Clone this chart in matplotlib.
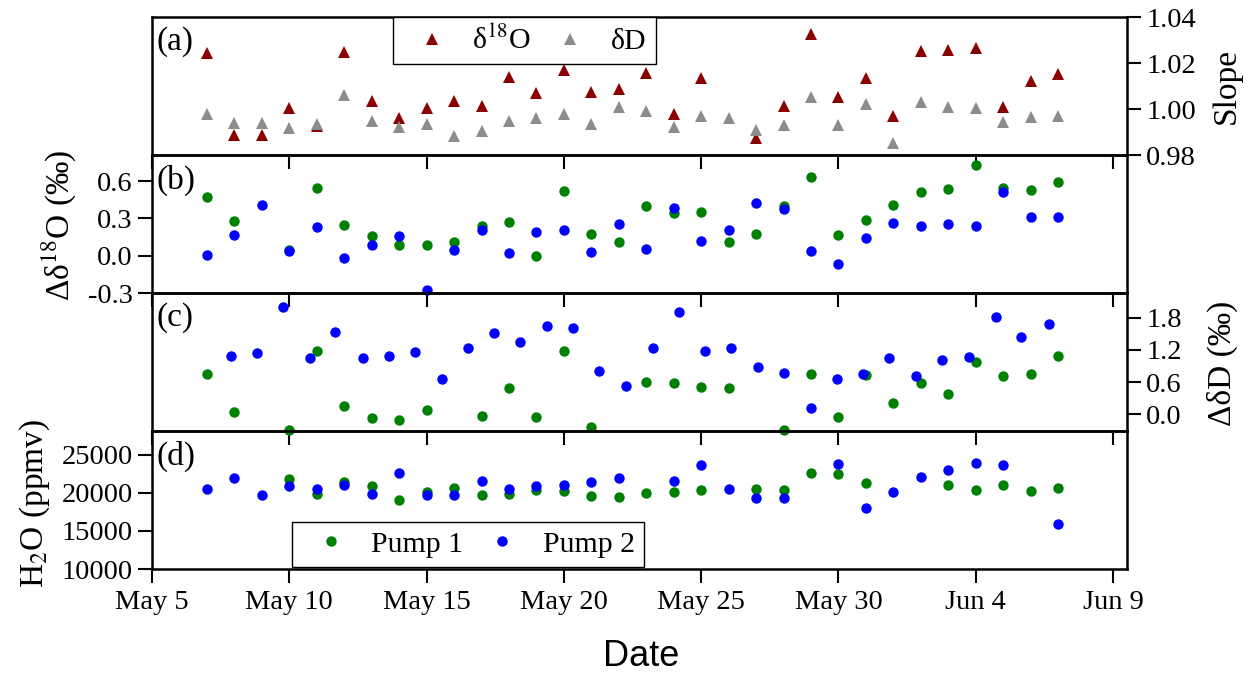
import matplotlib
matplotlib.use('Agg')
import matplotlib.pyplot as plt
import numpy as np
import pandas as pd

plt.rcParams['font.family'] = ['Liberation Serif', 'DejaVu Serif']
plt.rcParams['mathtext.fontset'] = 'stix'
plt.rcParams['axes.unicode_minus'] = False

nan = np.nan

# day numbers counted from May 1 (Jun 1 = 32), daily May 7 .. Jun 7
day = np.arange(7, 39)

# (a) slopes
slope_d18o = [1.0245, 0.9888, 0.9888, 1.0006, 0.9925, 1.0248, 1.0036, 0.9962,
              1.0005, 1.0034, 1.0012, 1.0138, 1.0068, 1.0171, 1.0076, 1.0086,
              1.0157, 0.9977, 1.0136, nan, 0.9872, 1.0015, 1.0326, 1.0054,
              1.0134, 0.9968, 1.0251, 1.0258, 1.0266, 1.0007, 1.0124, 1.0153]
slope_dd = [0.9977, 0.9939, 0.9939, 0.9916, 0.9935, 1.0061, 0.9946, 0.9921,
            0.9935, 0.9884, 0.9903, 0.9950, 0.9962, 0.9977, 0.9935, 1.0009,
            0.9992, 0.9921, 0.9968, 0.9961, 0.9909, 0.9931, 1.0051, 0.9930,
            1.0022, 0.9851, 1.0032, 1.0007, 1.0003, 0.9942, 0.9966, 0.9971]

# (b) delta d18O
d18o_p1 = [0.470, 0.282, nan, 0.050, 0.546, 0.250, 0.161, 0.086,
           0.086, 0.110, 0.242, 0.269, -0.005, 0.524, 0.175, 0.113,
           0.403, 0.341, 0.349, 0.108, 0.172, 0.403, 0.632, 0.167,
           0.288, 0.411, 0.511, 0.538, 0.731, 0.543, 0.532, 0.597]
d18o_p2 = [0.005, 0.170, 0.410, 0.040, 0.234, -0.016, 0.083, 0.161,
           -0.274, 0.048, 0.207, 0.019, 0.188, 0.207, 0.027, 0.253,
           0.054, 0.384, 0.116, 0.207, 0.425, 0.376, 0.038, -0.067,
           0.140, 0.261, 0.237, 0.258, 0.237, 0.516, 0.309, 0.309]

# (c) delta dD
dd_p1 = [0.753, 0.037, nan, -0.300, 1.188, 0.162, -0.062, -0.106,
         0.081, nan, -0.031, 0.498, -0.044, 1.182, -0.240, nan,
         0.610, 0.590, 0.510, 0.485, nan, -0.300, 0.746, -0.040,
         0.734, 0.205, 0.578, 0.386, 0.983, 0.715, 0.759, 1.082]
dd_p2_day = [7.88, 8.81, 9.78, 10.74, 11.68, 12.67, 13.64, 14.58,
             15.56, 16.51, 17.46, 18.42, 19.39, 20.35, 21.29, 22.25,
             23.24, 24.19, 25.13, 26.10, 27.06, 28.01, 29.00, 29.96,
             30.91, 31.85, 32.81, 33.78, 34.75, 35.72, 36.66, 37.65]
dd_p2 = [1.088, 1.150, 2.009, 1.057, 1.542, 1.057, 1.088, 1.169,
         0.659, 1.244, 1.511, 1.343, 1.648, 1.617, 0.815, 0.529,
         1.231, 1.903, 1.182, 1.244, 0.883, 0.771, 0.124, 0.659,
         0.746, 1.057, 0.709, 1.007, 1.063, 1.810, 1.437, 1.679]

# (d) water vapour
h2o_p1 = [nan, nan, nan, 21865, 19867, 21420, 20888, 19112,
          20089, 20666, 19734, 19778, 20400, 20222, 19556, 19423,
          19956, 20089, 20400, nan, 20444, 20400, 22531, 22442,
          21288, nan, nan, 20977, 20400, 20977, 20222, 20666]
h2o_p2 = [20533, 22000, 19645, 20888, 20533, 20977, 19778, 22620,
          19645, 19645, 21510, 20444, 20844, 21066, 21420, 21954,
          nan, 21510, 23641, 20533, 19290, 19290, nan, 23774,
          18002, 20089, 22087, 22930, 23863, 23641, nan, 15960]

tick_days = [5, 10, 15, 20, 25, 30, 35, 40]
tick_labels = ['May 5', 'May 10', 'May 15', 'May 20', 'May 25', 'May 30', 'Jun 4', 'Jun 9']

base = pd.Timestamp('2016-04-30')


def to_date(d):
    return base + pd.to_timedelta(np.asarray(d, dtype=float), unit='D')


RED = '#8b0000'
GRAY = '#8c8c8c'
GREEN = '#008000'
BLUE = '#0000ff'
FS = 20.5      # tick labels
LFS = 24       # axis titles / panel letters
LEGFS = 21.5

fig = plt.figure(figsize=(12.52, 6.73), dpi=100)
gs = fig.add_gridspec(4, 1, left=0.1214, right=0.900, top=0.9747, bottom=0.1545, hspace=0)
axes = [fig.add_subplot(gs[i]) for i in range(4)]
for a in axes[1:]:
    a.sharex(axes[0])

mk = dict(linestyle='none', markeredgewidth=0, clip_on=False)
ax = axes[0]
ax.plot(to_date(day), slope_d18o, '^', color=RED, ms=9, label=r'δ$^{18}$O', **mk)
ax.plot(to_date(day), slope_dd, '^', color=GRAY, ms=9, label='δD', **mk)
ax.set_ylim(0.98, 1.04)
ax.set_yticks([0.98, 1.00, 1.02, 1.04])
ax.set_yticklabels(['0.98', '1.00', '1.02', '1.04'])

ax = axes[1]
ax.plot(to_date(day), d18o_p1, 'o', color=GREEN, ms=7.5, **mk)
ax.plot(to_date(day), d18o_p2, 'o', color=BLUE, ms=7.5, **mk)
ax.set_ylim(-0.3, 0.81)
ax.set_yticks([-0.3, 0.0, 0.3, 0.6])
ax.set_yticklabels(['-0.3', '0.0', '0.3', '0.6'])

ax = axes[2]
ax.plot(to_date(day), dd_p1, 'o', color=GREEN, ms=7.5, **mk)
ax.plot(to_date(dd_p2_day), dd_p2, 'o', color=BLUE, ms=7.5, **mk)
ax.set_ylim(-0.31, 2.26)
ax.set_yticks([0.0, 0.6, 1.2, 1.8])
ax.set_yticklabels(['0.0', '0.6', '1.2', '1.8'])

ax = axes[3]
ax.plot(to_date(day), h2o_p1, 'o', color=GREEN, ms=7.5, label='Pump 1', **mk)
ax.plot(to_date(day), h2o_p2, 'o', color=BLUE, ms=7.5, label='Pump 2', **mk)
ax.set_ylim(10000, 28100)
ax.set_yticks([10000, 15000, 20000, 25000])
ax.set_yticklabels(['10000', '15000', '20000', '25000'])

axes[0].set_xlim(to_date([5, 40.5]))
axes[3].set_xticks(to_date(tick_days))
axes[3].set_xticklabels(tick_labels)

sides = ['right', 'left', 'right', 'left']
for i, a in enumerate(axes):
    a.patch.set_visible(False)
    for s in a.spines.values():
        s.set_linewidth(1.8)
    a.tick_params(axis='x', direction='out', length=10, width=1.5, bottom=True,
                  top=False, labelbottom=(i == 3), labelsize=FS, pad=5)
    right = sides[i] == 'right'
    a.tick_params(axis='y', direction='out', length=10, width=1.5, left=not right,
                  right=right, labelleft=not right, labelright=right, labelsize=FS, pad=4)

# legends
leg_kw = dict(loc='upper left', bbox_transform=fig.transFigure, ncol=2, fontsize=LEGFS,
              frameon=True, fancybox=False, edgecolor='black', framealpha=1,
              borderaxespad=0, handlelength=2.0, handletextpad=0.36,
              columnspacing=0.3, borderpad=0.3)
leg = axes[0].legend(bbox_to_anchor=(393 / 1252, 1 - 17 / 673), **leg_kw)
leg.get_frame().set_linewidth(1.0)
leg = axes[3].legend(bbox_to_anchor=(292 / 1252, 1 - 522 / 673), **leg_kw)
leg.get_frame().set_linewidth(1.0)

# panel letters
for a, letter in zip(axes, ['(a)', '(b)', '(c)', '(d)']):
    a.text(0.005, 0.93, letter, transform=a.transAxes, ha='left', va='top', fontsize=LFS)

# axis titles
fig.text(1226 / 1252, 1 - 86 / 673, 'Slope', rotation=90, ha='center', va='center', fontsize=LFS)
fig.text(59 / 1252, 1 - 225 / 673, r'Δδ$^{18}$O (‰)', rotation=90, ha='center', va='center', fontsize=LFS)
fig.text(1222 / 1252, 1 - 363 / 673, 'ΔδD (‰)', rotation=90, ha='center', va='center', fontsize=LFS)
fig.text(35 / 1252, 1 - 503 / 673, r'H$_2$O (ppmv)', rotation=90, ha='center', va='center', fontsize=LFS)
fig.text(641 / 1252, 1 - 657 / 673, 'Date', ha='center', va='center', fontsize=26,
         family=['Liberation Sans', 'DejaVu Sans'])

fig.savefig('out.png', dpi=100)
